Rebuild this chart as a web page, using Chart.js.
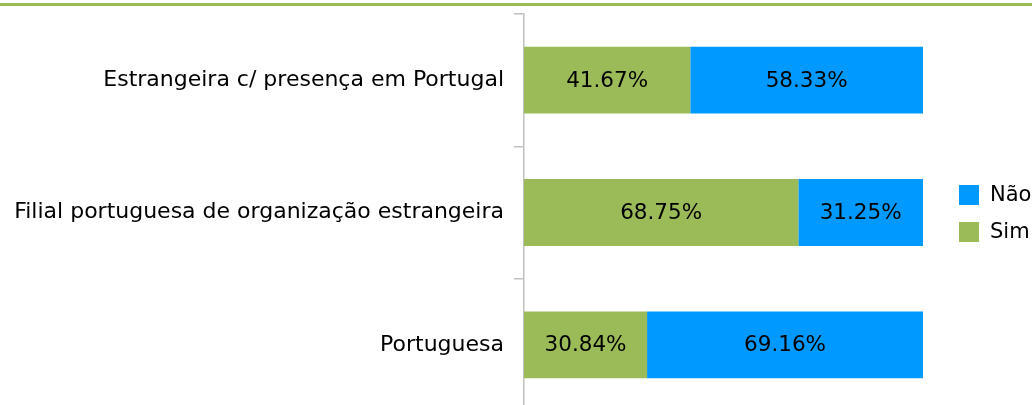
<!DOCTYPE html>
<html>
<head>
<meta charset="utf-8">
<script src="https://cdn.jsdelivr.net/npm/chart.js@4.4.1/dist/chart.umd.min.js"></script>
<style>
  html, body { margin: 0; padding: 0; background: #fff; overflow: hidden; }
  #wrap { position: relative; width: 1032px; height: 420px; }
  #topLine { position: absolute; left: 0; top: 3px; width: 1032px; height: 3px; background: #9bbb59; }
</style>
</head>
<body>
<div id="wrap">
  <canvas id="chart" width="1032" height="420"></canvas>
  <div id="topLine"></div>
</div>
<script>
const categories = [
  "Estrangeira c/ presença em Portugal",
  "Filial portuguesa de organização estrangeira",
  "Portuguesa"
];
const simValues = [41.67, 68.75, 30.84];
const naoValues = [58.33, 31.25, 69.16];

const FONT = "'DejaVu Sans', sans-serif";

// percent labels centred in every bar segment
const barLabels = {
  id: "barLabels",
  afterDatasetsDraw(chart) {
    const ctx = chart.ctx;
    ctx.save();
    ctx.font = "21.5px " + FONT;
    ctx.fillStyle = "#000";
    ctx.textAlign = "center";
    ctx.textBaseline = "middle";
    chart.data.datasets.forEach((ds, i) => {
      chart.getDatasetMeta(i).data.forEach((bar, j) => {
        const p = bar.getProps(["x", "y", "base"], true);
        ctx.fillText(ds.data[j].toFixed(2) + "%", (p.x + p.base) / 2, p.y + 1);
      });
    });
    ctx.restore();
  }
};

// legend on the right, Não above Sim
const sideLegend = {
  id: "sideLegend",
  afterDraw(chart) {
    const ctx = chart.ctx;
    ctx.save();
    ctx.font = "21px " + FONT;
    ctx.textBaseline = "middle";
    const items = chart.data.datasets.slice().reverse();
    items.forEach((ds, i) => {
      const y = 195 + i * 37;
      ctx.fillStyle = ds.backgroundColor;
      ctx.fillRect(959, y - 10, 20, 20);
      ctx.fillStyle = "#000";
      ctx.fillText(ds.label, 990, y + 1);
    });
    ctx.restore();
  }
};

new Chart(document.getElementById("chart"), {
  type: "bar",
  data: {
    labels: categories,
    datasets: [
      { label: "Sim", data: simValues, backgroundColor: "#9bbb59" },
      { label: "Não", data: naoValues, backgroundColor: "#0099ff" }
    ]
  },
  options: {
    indexAxis: "y",
    responsive: false,
    animation: false,
    layout: { padding: { top: 14, bottom: 9, right: 109, left: 0 } },
    datasets: { bar: { categoryPercentage: 1, barPercentage: 0.505 } },
    plugins: { legend: { display: false }, tooltip: { enabled: false } },
    scales: {
      x: { stacked: true, min: 0, max: 100, display: false },
      y: {
        stacked: true,
        afterFit(scale) {
          scale.width = 524;
          scale.paddingTop = 0;
          scale.paddingBottom = 0;
        },
        border: { color: "#c0c0c0", width: 1.5 },
        grid: { drawOnChartArea: false, tickLength: 10, color: "#c0c0c0", lineWidth: 1.5, offset: true },
        ticks: { color: "#000", padding: 10, font: { family: FONT, size: 22 } }
      }
    }
  },
  plugins: [barLabels, sideLegend]
});
</script>
</body>
</html>
